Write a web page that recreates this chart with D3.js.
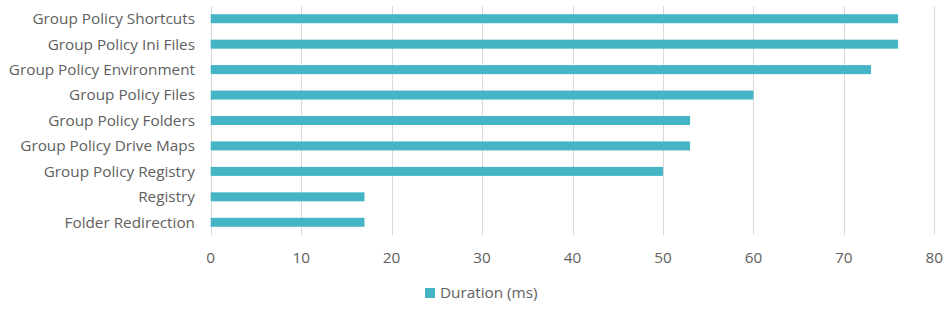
<!DOCTYPE html>
<html>
<head>
<meta charset="utf-8">
<script src="https://cdn.jsdelivr.net/npm/d3@7"></script>
<style>
  body { margin: 0; background: #fff; }
  text { font-family: "Open Sans", sans-serif; fill: #606060; font-size: 15.3px; }
</style>
</head>
<body>
<svg width="952" height="310"></svg>
<script>
var categories = ["Group Policy Shortcuts", "Group Policy Ini Files", "Group Policy Environment",
  "Group Policy Files", "Group Policy Folders", "Group Policy Drive Maps",
  "Group Policy Registry", "Registry", "Folder Redirection"];
var durations = [76, 76, 73, 60, 53, 53, 50, 17, 17];
var xTicks = [0, 10, 20, 30, 40, 50, 60, 70, 80];
var seriesName = "Duration (ms)";

var svg = d3.select("svg");
var barColor = "#45b5c6";

var x = d3.scaleLinear().domain([0, 80]).range([210.7, 934.3]);
var y = d3.scaleBand().domain(categories).range([6, 235])
    .paddingInner(0.646).paddingOuter(0.323);

// gridlines
svg.append("g").selectAll("line")
    .data(xTicks)
  .enter().append("line")
    .attr("x1", function(d) { return Math.round(x(d)) + 0.5; })
    .attr("x2", function(d) { return Math.round(x(d)) + 0.5; })
    .attr("y1", 6).attr("y2", 235)
    .attr("stroke", "#d9d9d9").attr("stroke-width", 1);

// bars
svg.append("g").selectAll("rect")
    .data(categories)
  .enter().append("rect")
    .attr("x", x(0))
    .attr("y", function(d) { return y(d); })
    .attr("width", function(d, i) { return x(durations[i]) - x(0); })
    .attr("height", y.bandwidth())
    .attr("fill", barColor);

// category labels
svg.append("g").selectAll("text")
    .data(categories)
  .enter().append("text")
    .attr("x", 195)
    .attr("y", function(d) { return y(d) + y.bandwidth() / 2; })
    .attr("dy", "0.35em")
    .attr("text-anchor", "end")
    .text(function(d) { return d; });

// x tick labels
svg.append("g").selectAll("text")
    .data(xTicks)
  .enter().append("text")
    .attr("x", function(d) { return x(d); })
    .attr("y", 258)
    .attr("dy", "0.35em")
    .attr("text-anchor", "middle")
    .text(function(d) { return d; });

// legend
var legend = svg.append("g");
legend.append("rect")
    .attr("x", 425).attr("y", 288)
    .attr("width", 10).attr("height", 10)
    .attr("fill", barColor);
legend.append("text")
    .attr("x", 440).attr("y", 293)
    .attr("dy", "0.35em")
    .text(seriesName);
</script>
</body>
</html>
